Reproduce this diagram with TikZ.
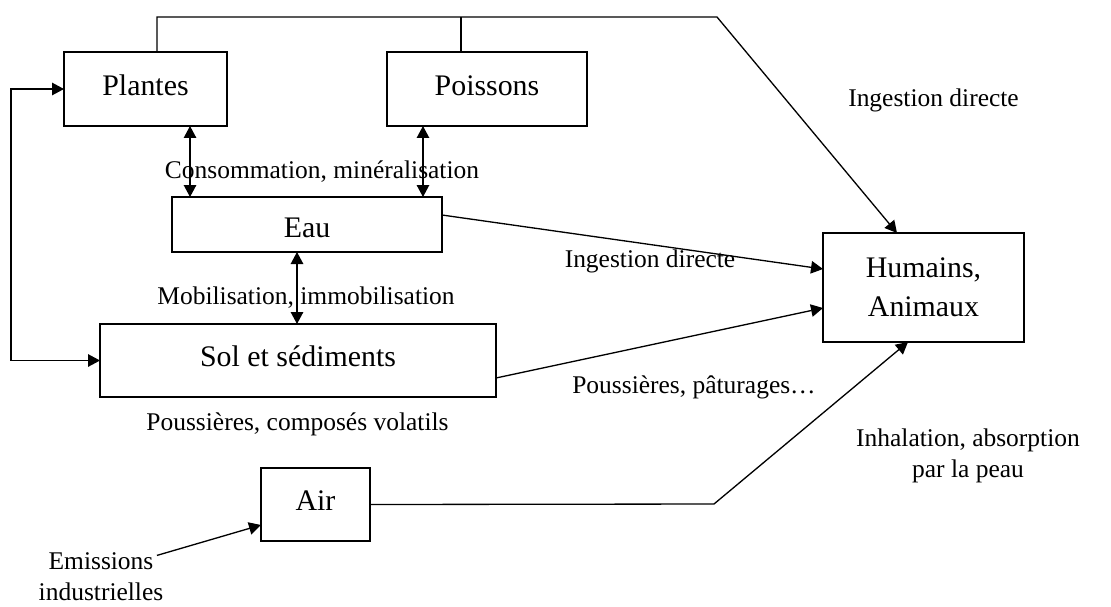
\documentclass[tikz,border=0pt]{standalone}
\usepackage{fontspec}
\setmainfont{Liberation Serif}
\usetikzlibrary{arrows.meta,positioning}

\tikzset{
  boite/.style={draw, inner sep=0pt, outer sep=0pt, align=center,
    font=\fontsize{17}{22}\selectfont, text height=0.42cm, text depth=0.18cm},
  legende/.style={inner sep=0pt, align=center, font=\fontsize{14.5}{17.5}\selectfont},
}

\begin{document}
\begin{tikzpicture}[x=0.02cm, y=-0.02cm, >={Triangle[length=0.24cm,width=0.25cm]}, line width=0.75pt]
        \useasboundingbox (0,0) rectangle (1111,606);

        % Compartiments
        \node[boite, minimum width=3.26cm, minimum height=1.48cm] (plantes) at (145.5,89) {Plantes};
        \node[boite, minimum width=4cm, minimum height=1.48cm] (poissons) at (487,89) {Poissons};
        \node[boite, minimum width=5.4cm, minimum height=1.1cm, text height=0.5cm, text depth=0cm] (eau) at (307,224.5) {Eau};
        \node[boite, minimum width=7.92cm, minimum height=1.46cm] (sol) at (298,360.5) {Sol et sédiments};
        \node[boite, minimum width=2.18cm, minimum height=1.46cm] (air) at (315.5,504.5) {Air};
        \node[boite, minimum width=4.02cm, minimum height=2.18cm, text height=, text depth=] (humains) at (923.5,287.5) {Humains,\\Animaux};

        % Legendes
        \node[legende, anchor=base] (conso) at (322,178) {Consommation, minéralisation};
        \node[legende, anchor=base] (mobil) at (306,304) {Mobilisation, immobilisation};
        \node[legende, anchor=base] (volat) at (297.5,430) {Poussières, composés volatils};
        \node[legende, anchor=base] (ingHaut) at (933.5,106) {Ingestion directe};
        \node[legende, anchor=base] (ingMil) at (650,267) {Ingestion directe};
        \node[legende, anchor=base] (patur) at (694,393) {Poussières, pâturages…};
        \node[legende] (inhal) at (968,456) {Inhalation, absorption\\par la peau};
        \node[legende] (emis) at (101,577) {Emissions\\industrielles};

        % Echanges entre compartiments
        \draw[<->] ([xshift=0.36cm]eau.north west) -- ([xshift=0.36cm]eau.north west |- plantes.south);
        \draw[<->] ([xshift=-0.38cm]eau.north east) -- ([xshift=-0.38cm]eau.north east |- poissons.south);
        \draw[<->] ([xshift=-0.2cm]eau.south) -- ([xshift=-0.2cm]eau.south |- sol.north);
        \draw[<->] (plantes.west) -- ++(-1.06cm,0cm) |- (sol.west);

        % Voies d'exposition
        \coordinate (hautD) at (717,17);
        \coordinate (coude) at (714,504);
        \draw[->] ([xshift=0.23cm]plantes.north) -- ++(0cm,0.7cm) -- (hautD) -- ([xshift=-0.53cm]humains.north);
        \draw ([xshift=-0.52cm]poissons.north) -- ++(0cm,0.7cm);
        \draw[->] ([yshift=0.19cm]eau.east) -- ([yshift=0.37cm]humains.west);
        \draw[->] ([yshift=-0.35cm]sol.east) -- ([yshift=-0.41cm]humains.west);
        \draw[->] (air.east) -- (coude) -- ([xshift=-0.31cm]humains.south);
        \draw[->] ([xshift=-0.14cm,yshift=-0.06cm]emis.north east) -- ([yshift=-0.41cm]air.west);
\end{tikzpicture}
\end{document}
